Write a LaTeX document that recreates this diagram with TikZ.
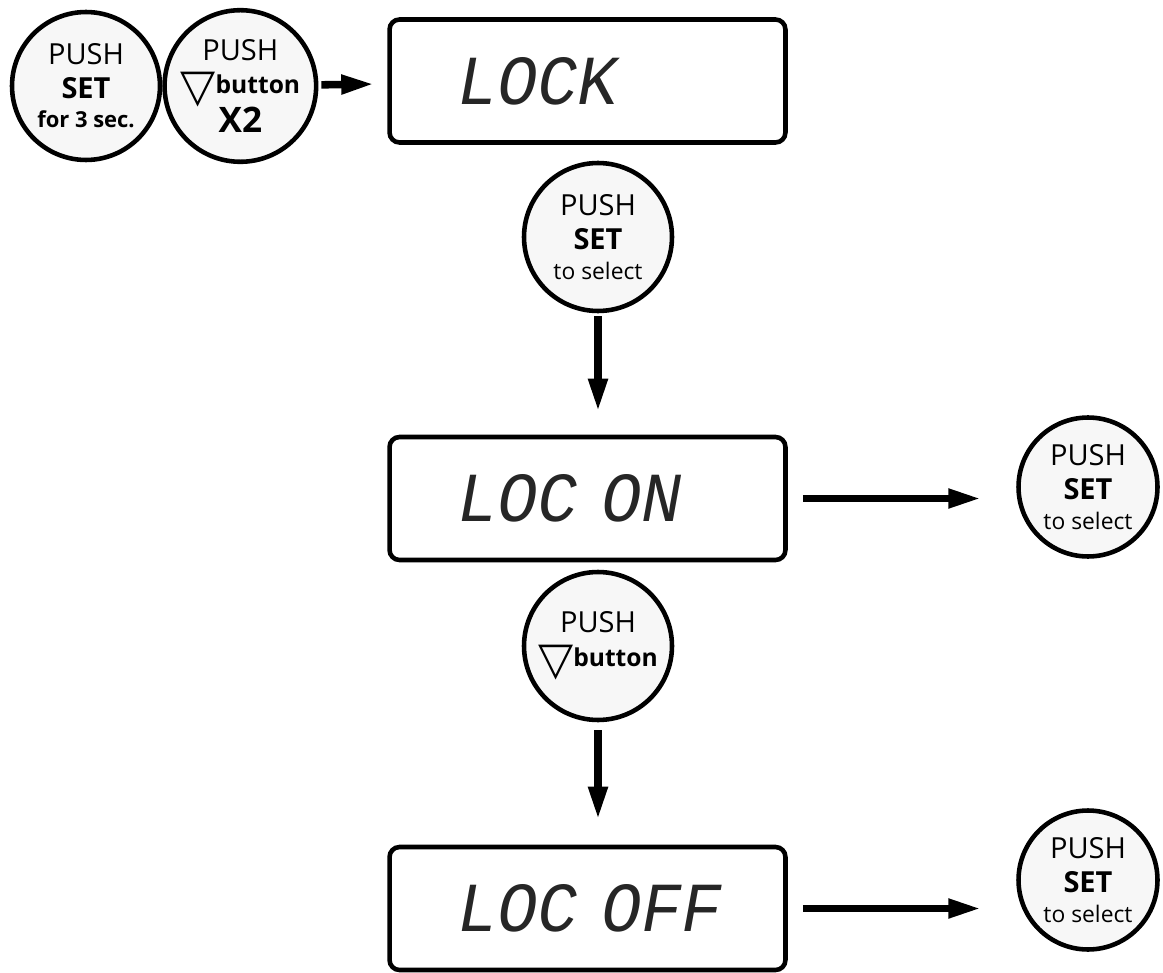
\documentclass[tikz,border=0pt]{standalone}
\usepackage{fontspec}
\setmainfont{Open Sans}
\newfontfamily\symfont{DejaVu Sans}
\newfontfamily\lcdfont[FakeSlant=0.18,FakeStretch=0.95]{Liberation Mono}
\usetikzlibrary{arrows.meta,positioning}
\tikzset{
btn/.style={circle, draw=black, line width=2.6pt, fill=black!3, minimum size=2.96cm, inner sep=0pt, align=center, font=\fontsize{16.5}{19}\selectfont},
small/.style={minimum size=2.78cm},
lcd/.style={rectangle, rounded corners=0.2cm, draw=black, line width=2.6pt, minimum width=7.92cm, minimum height=2.46cm, inner xsep=1.3cm, text width=5.32cm, align=left, font=\lcdfont\fontsize{40}{40}\selectfont, text=black!85},
arrow/.style={line width=4.3pt, -{Triangle[length=0.66cm,width=0.36cm]}},
}
\newcommand{\downtri}{\raisebox{-0.28em}{\symfont\fontsize{26}{26}\selectfont ▽}}

\begin{document}
\begin{tikzpicture}[x=0.02cm,y=-0.02cm]
\useasboundingbox (0,0) rectangle (1163,973);

\node[btn](push_hold) at (86,86){PUSH\\\textbf{SET}\\[-2pt]{\fontsize{12.5}{12.5}\selectfont\textbf{for 3 sec.}}};
\node[btn,right=0pt of push_hold](push_down){PUSH\\\downtri\textbf{\fontsize{14}{14}\selectfont button}\\[-1pt]{\fontsize{20}{20}\selectfont\textbf{X2}}};
\node[lcd](lcd_lock) at (587.5,81){LOCK};

\node[btn](set_select1) at (598,237){PUSH\\\textbf{SET}\\[-2pt]{\fontsize{13}{13}\selectfont to select}};
\node[lcd](lcd_on) at (587.5,498.5){LOC ON};
\node[btn,small](set_select2) at (1088,487){PUSH\\\textbf{SET}\\[-2pt]{\fontsize{13}{13}\selectfont to select}};

\node[btn](down_btn) at (598,646){PUSH\\\downtri\textbf{\fontsize{14}{14}\selectfont button}};
\node[lcd](lcd_off) at (587.5,908.5){LOC OFF};
\node[btn,small](set_select3) at (1088,880){PUSH\\\textbf{SET}\\[-2pt]{\fontsize{13}{13}\selectfont to select}};

\draw [arrow,shorten <=0.06cm,shorten >=0.26cm] (push_down) -- (lcd_lock);
\draw [arrow,shorten <=0.06cm,shorten >=0.46cm] (set_select1) -- (set_select1 |- lcd_on.north);
\draw [arrow,shorten <=0.16cm,shorten >=0.5cm] (down_btn) -- (down_btn |- lcd_off.north);
\draw [arrow,shorten <=0.3cm,shorten >=0.7cm] (lcd_on.east) -- (lcd_on.east -| set_select2.west);
\draw [arrow,shorten <=0.3cm,shorten >=0.7cm] (lcd_off.east) -- (lcd_off.east -| set_select3.west);
\end{tikzpicture}
\end{document}
